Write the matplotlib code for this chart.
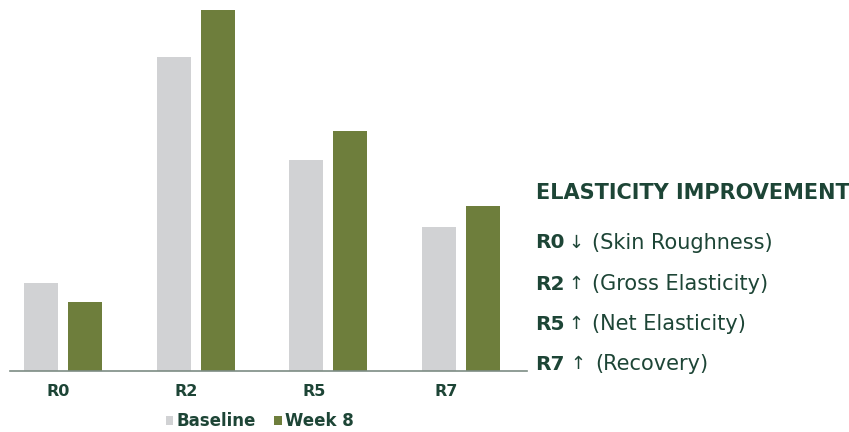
import numpy as np
import matplotlib.pyplot as plt

# values (arbitrary units, no y axis shown)
categories = ['R0', 'R2', 'R5', 'R7']
baseline = [88, 314, 211, 144]
week8 = [69, 361, 240, 165]
label_shift = [-0.04, -0.075, -0.105, -0.113]

notes = [('R0', '\u2193', '(Skin Roughness)'),
         ('R2', '\u2191', '(Gross Elasticity)'),
         ('R5', '\u2191', '(Net Elasticity)'),
         ('R7', '\u2191', '(Recovery)')]

gray = '#d1d2d4'
green = '#6e7e3c'
dark = '#1d4536'
fam = ['DejaVu Sans']

fig = plt.figure(figsize=(8.49, 4.32), dpi=100)
ax = fig.add_axes([10 / 849, 61 / 432, 517 / 849, 361 / 432])

x = np.arange(len(categories))
w = 0.256
ax.bar(x - 0.166, baseline, w, color=gray, label='Baseline')
ax.bar(x + 0.166, week8, w, color=green, label='Week 8')

ax.set_xlim(-0.40, 3.497)
ax.set_ylim(0, 361)
for s in ['top', 'right', 'left']:
    ax.spines[s].set_visible(False)
ax.spines['bottom'].set_color('#7d8c84')
ax.spines['bottom'].set_linewidth(1.2)
ax.set_yticks([])
ax.set_xticks(x + np.array(label_shift))
ax.set_xticklabels(categories, family=fam, fontsize=11.5, fontweight='bold', color=dark)
ax.tick_params(axis='x', length=0, pad=9)

leg = fig.legend(loc='center', bbox_to_anchor=(260 / 849, 1 - 421 / 432), ncol=2, frameon=False,
                 handlelength=0.45, handleheight=0.45, handletextpad=0.2, columnspacing=1.1,
                 prop={'family': fam, 'size': 12, 'weight': 'bold'})
for t in leg.get_texts():
    t.set_color(dark)

fig.text(536 / 849, 1 - 193 / 432, 'ELASTICITY IMPROVEMENT', family=fam, fontsize=15,
         fontweight='bold', color=dark, va='center', ha='left')
rows_y = [243, 284, 324, 364]
arrow_x = [576, 576, 576, 578]
desc_x = [592, 592, 592, 595]
for (code, arrow, desc), yy, ax_, dx in zip(notes, rows_y, arrow_x, desc_x):
    fy = 1 - yy / 432
    fig.text(535 / 849, fy, code, family=fam, fontsize=14.5, fontweight='bold', color=dark, va='center')
    fig.text(ax_ / 849, fy, arrow, family=fam, fontsize=13, color=dark, va='center', ha='center')
    fig.text(dx / 849, fy, desc, family=fam, fontsize=15, color=dark, va='center')

fig.savefig('out.png', dpi=100)
